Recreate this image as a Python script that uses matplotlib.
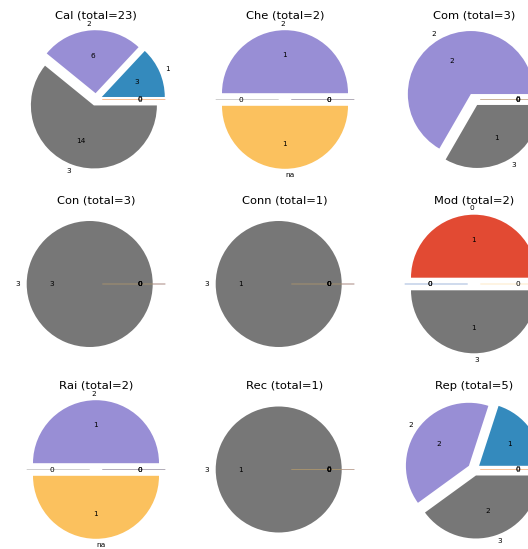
import matplotlib
matplotlib.use("Agg")
import matplotlib.pyplot as plt
from matplotlib.colors import to_rgba

plt.style.use('ggplot')

categories = ['0', '1', '2', '3', 'na']
colors = ['#E24A33', '#348ABD', '#988ED5', '#777777', '#FBC15E']

names = ['Cal', 'Che', 'Com', 'Con', 'Conn', 'Mod', 'Rai', 'Rec', 'Rep']
counts = {
    'Cal': [0, 3, 6, 14, 0],
    'Che': [0, 0, 1, 0, 1],
    'Com': [0, 0, 2, 1, 0],
    'Con': [0, 0, 0, 3, 0],
    'Conn': [0, 0, 0, 1, 0],
    'Mod': [1, 0, 0, 1, 0],
    'Rai': [0, 0, 1, 0, 1],
    'Rec': [0, 0, 0, 1, 0],
    'Rep': [0, 1, 2, 2, 0],
}

W, H = 528, 549
fig = plt.figure(figsize=(W / 100, H / 100), dpi=100)

col_x = [96, 285, 474]   # pie centers, px
row_y = [99.5, 284, 469.5]
side = 157.5             # axes size, px (radius 63 px)

for i, name in enumerate(names):
    cx = col_x[i % 3]
    cy = row_y[i // 3]
    ax = fig.add_axes([(cx - side / 2) / W, 1 - (cy + side / 2) / H, side / W, side / H])
    vals = counts[name]
    total = sum(vals)
    labels = [c if v > 0 else '' for c, v in zip(categories, vals)]
    wedges, _, _ = ax.pie(vals, labels=labels, colors=colors, explode=[0.1] * len(vals),
                          autopct=lambda p, t=total: '{:.0f}'.format(p * t / 100),
                          textprops={'fontsize': 5.3})
    # empty categories show up as faint lines
    for w, v, c in zip(wedges, vals, colors):
        if v == 0:
            w.set_edgecolor(to_rgba(c, 0.35))
            w.set_linewidth(0.7)
    ax.set_title('%s (total=%d)' % (name, total), fontsize=8.25, pad=1.5)

fig.savefig('out.png', dpi=100)
